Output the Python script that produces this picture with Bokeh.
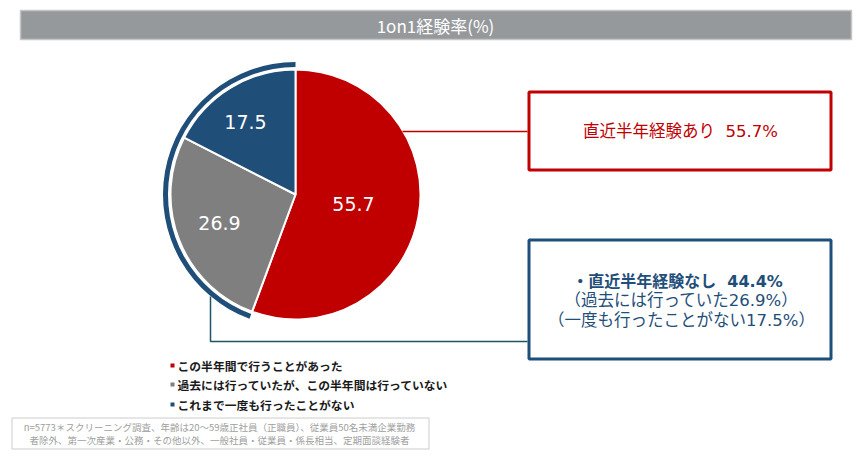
import math
from bokeh.plotting import figure
from bokeh.models import Range1d
from bokeh.core.properties import value
from bokeh.embed import file_html
from bokeh.resources import INLINE

# ---- data ----
title_text = "1on1経験率(%)"
categories = ["この半年間で行うことがあった",
              "過去には行っていたが、この半年間は行っていない",
              "これまで一度も行ったことがない"]
shares = [55.7, 26.9, 17.5]
share_labels = ["55.7", "26.9", "17.5"]
colors = ["#C00000", "#7F7F7F", "#1F4E79"]
red_box_text = "直近半年経験あり\u00a0\u00a055.7%"
blue_box_lines = ["・直近半年経験なし\u00a0\u00a044.4%",
                  "（過去には行っていた26.9%）",
                  "（一度も行ったことがない17.5%）"]
footnote_lines = ["n=5773＊スクリーニング調査、年齢は20～59歳正社員（正職員）、従業員50名未満企業勤務",
                  "者除外、第一次産業・公務・その他以外、一般社員・従業員・係長相当、定期面談経験者"]

FONT = value("Noto Sans CJK JP")
MIX = value("DejaVu Sans, Noto Sans CJK JP")
W, H = 865, 460

def Y(py):
    return H - py

p = figure(width=W, height=H, output_backend="svg", toolbar_location=None,
           x_range=Range1d(0, W), y_range=Range1d(0, H),
           min_border=0, outline_line_color=None)
p.axis.visible = False
p.grid.visible = False
p.background_fill_color = "white"

# title bar
p.quad(left=20, right=851, top=Y(10), bottom=Y(39), fill_color="#96999C",
       line_color="#C3C5C7", line_width=1.5)
p.text(x=[435], y=[Y(25)], text=[title_text], text_color="white",
       text_font=FONT, text_font_size="17px", text_align="center",
       text_baseline="middle")

# pie
cx, cy, r = 295, Y(194), 125
total = sum(shares)
cum = 0.0
starts, ends = [], []
for s in shares:
    starts.append(math.radians(90 - (cum + s) / total * 360))
    ends.append(math.radians(90 - cum / total * 360))
    cum += s
p.wedge(x=[cx] * 3, y=[cy] * 3, radius=r, start_angle=starts, end_angle=ends,
        fill_color=colors, line_color="white", line_width=2)

# outer ring around the "not experienced" part
p.annular_wedge(x=[cx], y=[cy], inner_radius=127.5, outer_radius=132.5,
                start_angle=[math.radians(90 - 360)], end_angle=[ends[1]],
                fill_color="#1F4E79", line_color=None)

# slice labels
lab_x = [353, 219, 245]
lab_y = [Y(203), Y(222), Y(121)]
p.text(x=lab_x, y=lab_y, text=share_labels, text_color="white",
       text_font=value("DejaVu Sans"), text_font_size="19px", text_align="center",
       text_baseline="middle")

# connectors
p.line(x=[402, 527], y=[Y(131), Y(131)], line_color="#C00000", line_width=1.5)
p.line(x=[210, 210, 527], y=[Y(296), Y(341), Y(341)], line_color="#1E5566",
       line_width=1.5)

# red box
p.quad(left=528.5, right=830.5, top=Y(91.5), bottom=Y(169.5), fill_color="white",
       line_color="#C00000", line_width=3)
p.text(x=[680], y=[Y(131)], text=[red_box_text], text_color="#C00000",
       text_font=MIX, text_font_size="16.5px", text_align="center",
       text_baseline="middle")

# blue box
p.quad(left=528.5, right=830.5, top=Y(239.5), bottom=Y(358.5), fill_color="white",
       line_color="#1F4E79", line_width=3)
p.text(x=[677, 681, 681], y=[Y(281), Y(300), Y(320)], text=blue_box_lines,
       text_color="#1F4E79", text_font=MIX, text_font_size=["16px", "16.5px", "16.5px"],
       text_align="center", text_baseline="middle",
       text_font_style=["bold", "normal", "normal"])

# legend
leg_y = [Y(365), Y(384), Y(404)]
p.scatter(x=[172] * 3, y=leg_y, marker="square", size=4, fill_color=colors,
          line_color=None)
p.text(x=[177] * 3, y=leg_y, text=categories, text_color="#1a1a1a",
       text_font=FONT, text_font_size="11.8px", text_font_style="bold",
       text_align="left", text_baseline="middle")

# footnote
p.quad(left=11.5, right=428.5, top=Y(417.5), bottom=Y(448.5), fill_color=None,
       line_color="#CCCCCC", line_width=1)
p.text(x=[219, 219], y=[Y(426), Y(439)], text=footnote_lines,
       text_color="#A0A0A0", text_font=FONT, text_font_size="9.5px",
       text_align="center", text_baseline="middle")

open("out.html", "w").write(file_html(p, INLINE))
